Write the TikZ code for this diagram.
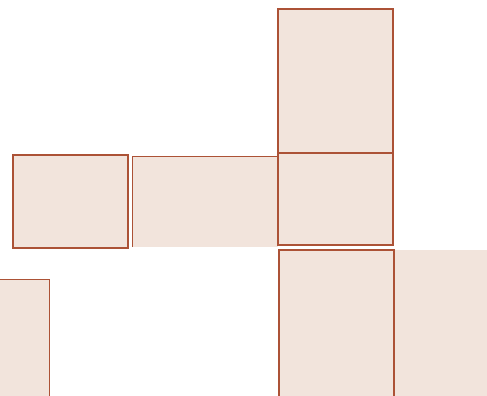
\documentclass[tikz,border=0pt]{standalone}
\definecolor{NFill}{HTML}{F2E4DC}
\definecolor{NEdge}{HTML}{AC5236}
\usepackage{tikz}
\begin{document}
\begin{tikzpicture}[x=0.75pt,y=-0.75pt,
    face/.style={fill=NFill,draw=NEdge,line width=1.3pt},
    bare/.style={fill=NFill},
    seam/.style={draw=NEdge,line width=0.6pt}]
    \useasboundingbox (0,0) rectangle (487,396);
    % faces without their own frame
    \fill[bare] (132,156) rectangle (278,247);
    \fill[bare] (394,250) rectangle (487,396);
    \fill[bare] (0,279) rectangle (49,396);
    \draw[seam] (132,247) -- (132,156) -- (278,156);
    \draw[seam] (0,279) -- (49,279) -- (49,400);
    % framed faces
    \draw[face] (13,155) rectangle (128,248);
    \draw[face] (278,9) rectangle (393,153);
    \draw[face] (278,153) rectangle (393,245);
    \draw[face] (279,250) rectangle (394,402);
\end{tikzpicture}
\end{document}
